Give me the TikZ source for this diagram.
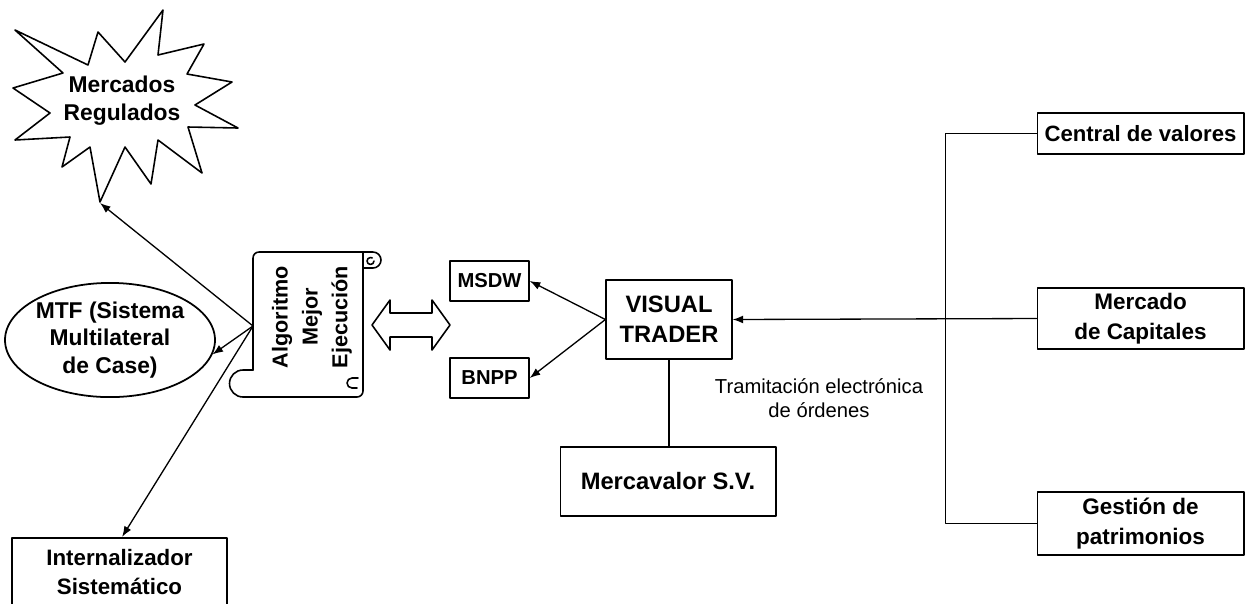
\documentclass[tikz,border=0pt]{standalone}
\usepackage{fontspec}
\setmainfont{Liberation Sans}
\usetikzlibrary{arrows.meta,shapes.geometric}
\newcommand\fsz[2]{\fontsize{#1pt}{#2pt}\selectfont}

\begin{document}
\begin{tikzpicture}[x=0.02cm, y=-0.02cm, line cap=round, line join=round,
    box/.style={draw, line width=1pt, inner sep=0pt, align=center},
    arr/.style={line width=0.75pt, -{Latex[length=6pt,width=4.5pt]}},
    lnk/.style={line width=0.9pt},
    lab/.style={inner sep=1pt, align=center}]
  \path[use as bounding box, fill=white] (0,0) rectangle (1246,603);
  \clip (0,0) rectangle (1246,603);
  % estrella
  \draw[lnk] (163,10) -- (158,55) -- (204,44) -- (187,74) -- (232,82) -- (195,105)
    -- (238,128) -- (188,127) -- (202,173) -- (158,140) -- (151,184) -- (125,147)
    -- (100,202) -- (90,147) -- (62,167) -- (70,137) -- (15,140) -- (50,113)
    -- (13,88) -- (63,73) -- (15,30) -- (88,65) -- (98,32) -- (125,62) -- cycle;
  \node[lab, font=\bfseries\fsz{13}{16}] (mreg) at (122,101) {Mercados\\Regulados};
  \coordinate (mrtip) at (100,203);
  \node[box, ellipse, minimum width=111pt, minimum height=65pt,
    font=\bfseries\fsz{13}{15.5}] (mtf) at (110,340) {MTF (Sistema\\Multilateral\\de Case)};
  \node[box, minimum width=122pt, minimum height=39pt,
    font=\bfseries\fsz{12.7}{17}] (intsis) at (119.5,572) {Internalizador\\Sistemático};
  % pergamino
  \draw[lnk] (253,370) -- (253,258) arc[start angle=180, end angle=270, radius=6]
    -- (373,252) arc[start angle=270, end angle=450, radius=8] -- (363,268);
  \draw[lnk] (363,252) -- (363,391) arc[start angle=0, end angle=90, radius=6]
    -- (243,397) arc[start angle=90, end angle=270, radius=13.5] -- (253,370);
  \draw[lnk] (374,261) arc[start angle=0, end angle=300, radius=3.5];
  \draw[lnk] (358,378) -- (352,378) arc[start angle=270, end angle=90, radius=5] -- (357,388);
  \node[lab, rotate=90, font=\bfseries\fsz{12.3}{17}] (algo) at (312,317) {Algoritmo\\Mejor\\Ejecución};
  \coordinate (alg) at (253,326);
  \draw[arr] (alg) -- (mrtip);
  \draw[arr] (alg) -- (mtf.-8);
  \draw[arr] (alg) -- ([xshift=1.5]intsis.north);
  % flecha doble
  \draw[lnk] (372,325) -- (390,300) -- (390,313) -- (432,313) -- (432,300) -- (450,325)
    -- (432,350) -- (432,337) -- (390,337) -- (390,350) -- cycle;
  \node[box, minimum width=44.8pt, minimum height=22.7pt, font=\bfseries\fsz{11.5}{13}] (msdw) at (489.5,281) {MSDW};
  \node[box, minimum width=44.8pt, minimum height=22.7pt, font=\bfseries\fsz{11.5}{13}] (bnpp) at (489.5,378) {BNPP};
  \node[box, minimum width=71.4pt, minimum height=44.8pt, font=\bfseries\fsz{13.5}{17}] (vt) at (669,319.5) {VISUAL\\TRADER};
  \node[box, minimum width=122.5pt, minimum height=39.1pt, font=\bfseries\fsz{13.5}{16}] (merc) at (668,481.5) {Mercavalor S.V.};
  \node[lab, font=\fsz{11.5}{14}] (tram) at (819,398) {Tramitación electrónica\\de órdenes};
  \draw[arr] (vt.west) -- (msdw.east);
  \draw[arr] (vt.west) -- (bnpp.east);
  \draw[lnk] (vt.south) -- (vt.south |- merc.north);
  % derecha
  \node[box, minimum width=117.4pt, minimum height=23.2pt, font=\bfseries\fsz{12.6}{17}] (cval) at (1140.5,133.5) {Central de valores};
  \node[box, minimum width=117.4pt, minimum height=34.6pt, font=\bfseries\fsz{12.8}{17}] (mcap) at (1140.5,318.5) {Mercado\\de Capitales};
  \node[box, minimum width=117.4pt, minimum height=35.7pt, font=\bfseries\fsz{12.8}{17}] (gpat) at (1140.5,523.5) {Gestión de\\patrimonios};
  \draw[lnk] (cval.west) -- ++(-91,0) |- (gpat.west);
  \draw[arr] (mcap.west) -- (vt.east);
\end{tikzpicture}
\end{document}
